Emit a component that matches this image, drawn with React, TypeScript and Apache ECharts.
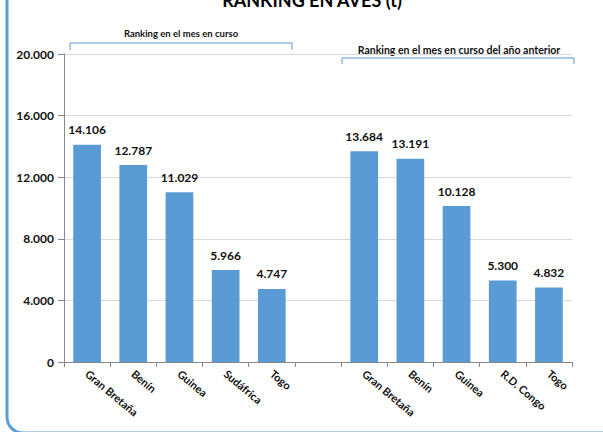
import React, { useEffect, useRef } from "react";
import * as echarts from "echarts";

const currentCountries = ["Gran Bretaña", "Benín", "Guinea", "Sudáfrica", "Togo"];
const currentValues = [14106, 12787, 11029, 5966, 4747];
const prevCountries = ["Gran Bretaña", "Benín", "Guinea", "R.D. Congo", "Togo"];
const prevValues = [13684, 13191, 10128, 5300, 4832];
const yTicks = [0, 4000, 8000, 12000, 16000, 20000];

const title = "RANKING EN AVES (t)";
const groupLabels = ["Ranking en el mes en curso", "Ranking en el mes en curso del año anterior"];

const FONT = "Lato, 'Open Sans', sans-serif";
const BLUE = "#5B9BD5";

export default function App() {
  const ref = useRef<HTMLDivElement>(null);
  useEffect(() => {
    if (!ref.current) return;
    const chart = echarts.init(ref.current, null, { renderer: "svg" });
    const categories = [...currentCountries, "", ...prevCountries];
    const values: (number | null)[] = [...currentValues, null, ...prevValues];
    const fmt = (v: number) => v.toLocaleString("de-DE");
    chart.setOption({
      animation: false,
      backgroundColor: "#fff",
      grid: { left: 64, right: 31, top: 54, bottom: 70, containLabel: false },
      xAxis: {
        type: "category",
        data: categories,
        axisLine: { lineStyle: { color: "#888", width: 1 } },
        axisTick: { show: true, length: 5, lineStyle: { color: "#888" } },
        axisLabel: {
          interval: 0,
          rotate: -40,
          fontFamily: FONT,
          fontWeight: "bold",
          fontSize: 11,
          color: "#111",
          margin: 10,
        },
      },
      yAxis: {
        type: "value",
        min: yTicks[0],
        max: yTicks[yTicks.length - 1],
        interval: 4000,
        axisLine: { show: true, lineStyle: { color: "#888" } },
        axisTick: { show: true, length: 6, lineStyle: { color: "#888" } },
        splitLine: { lineStyle: { color: "#d9d9d9" } },
        axisLabel: {
          formatter: (v: number) => fmt(v),
          fontFamily: FONT,
          fontWeight: "bold",
          fontSize: 12,
          color: "#111",
          margin: 10,
        },
      },
      series: [
        {
          type: "bar",
          data: values,
          barWidth: "60%",
          itemStyle: { color: BLUE },
          label: {
            show: true,
            position: "top",
            distance: 9,
            formatter: (p: any) => fmt(p.value),
            fontFamily: FONT,
            fontWeight: "bold",
            fontSize: 12,
            color: "#111",
          },
        },
      ],
      graphic: [
        {
          type: "rect",
          shape: { x: 7, y: -30, width: 700, height: 463, r: 16 },
          style: { fill: "none", stroke: BLUE, lineWidth: 3 },
          silent: true,
        },
        {
          type: "text",
          x: 312,
          y: -9,
          style: {
            text: title,
            fontFamily: FONT,
            fontWeight: "bold",
            fontSize: 18,
            fill: "#000",
            align: "center",
            verticalAlign: "top",
          },
        },
        {
          type: "polyline",
          shape: { points: [[70, 50], [70, 43], [292, 43], [292, 50]] },
          style: { stroke: BLUE, lineWidth: 1, fill: "none" },
        },
        {
          type: "text",
          x: 181,
          y: 33,
          style: {
            text: groupLabels[0],
            fontFamily: FONT,
            fontWeight: "bold",
            fontSize: 9.5,
            fill: "#111",
            align: "center",
            verticalAlign: "middle",
          },
        },
        {
          type: "polyline",
          shape: { points: [[342, 64], [342, 58], [574, 58], [574, 64]] },
          style: { stroke: BLUE, lineWidth: 1, fill: "none" },
        },
        {
          type: "text",
          x: 459,
          y: 50,
          style: {
            text: groupLabels[1],
            fontFamily: FONT,
            fontWeight: "bold",
            fontSize: 10.5,
            fill: "#111",
            align: "center",
            verticalAlign: "middle",
          },
        },
      ],
    });
    return () => chart.dispose();
  }, []);
  return <div ref={ref} style={{ width: 603, height: 432, position: "fixed", left: 0, top: 0 }} />;
}
